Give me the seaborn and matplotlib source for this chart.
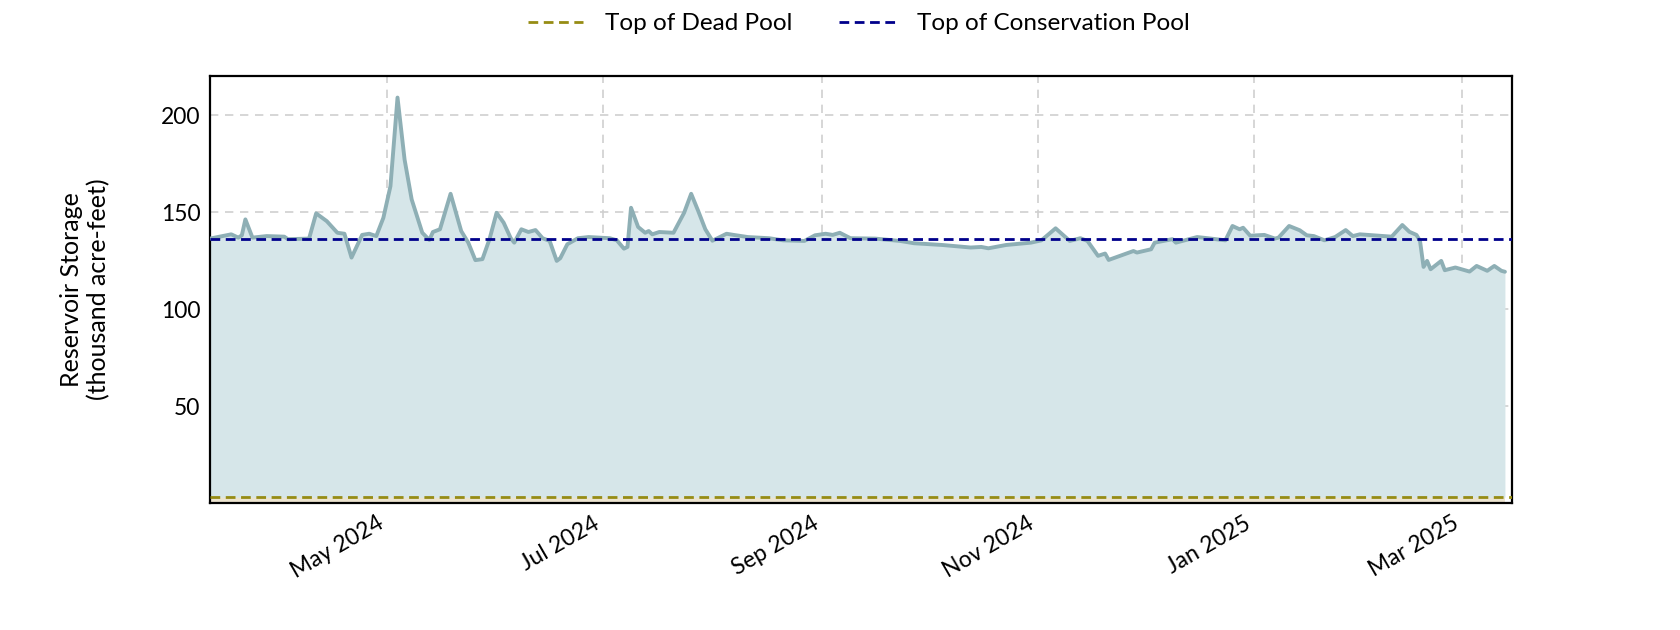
import matplotlib
matplotlib.use("Agg")
import matplotlib.pyplot as plt
import matplotlib.dates as mdates
from matplotlib.lines import Line2D
import seaborn as sns
import pandas as pd

dates = [
    "2024-03-12", "2024-03-18", "2024-03-20", "2024-03-21", "2024-03-22", "2024-03-24",
    "2024-03-28", "2024-04-02", "2024-04-03", "2024-04-09", "2024-04-11", "2024-04-14",
    "2024-04-17", "2024-04-19", "2024-04-21", "2024-04-24", "2024-04-26", "2024-04-28",
    "2024-04-30", "2024-05-02", "2024-05-04", "2024-05-06", "2024-05-08", "2024-05-11",
    "2024-05-13", "2024-05-14", "2024-05-16", "2024-05-19", "2024-05-22", "2024-05-24",
    "2024-05-26", "2024-05-28", "2024-05-30", "2024-06-01", "2024-06-03", "2024-06-05",
    "2024-06-06", "2024-06-08", "2024-06-10", "2024-06-12", "2024-06-14", "2024-06-16",
    "2024-06-18", "2024-06-19", "2024-06-21", "2024-06-24", "2024-06-27", "2024-07-03",
    "2024-07-05", "2024-07-07", "2024-07-08", "2024-07-09", "2024-07-11", "2024-07-13",
    "2024-07-14", "2024-07-15", "2024-07-17", "2024-07-21", "2024-07-24", "2024-07-26",
    "2024-07-28", "2024-07-30", "2024-08-01", "2024-08-05", "2024-08-07", "2024-08-11",
    "2024-08-17", "2024-08-21", "2024-08-27", "2024-08-30", "2024-09-02", "2024-09-04",
    "2024-09-06", "2024-09-09", "2024-09-16", "2024-09-23", "2024-09-27", "2024-10-05",
    "2024-10-13", "2024-10-16", "2024-10-18", "2024-10-23", "2024-10-30", "2024-11-02",
    "2024-11-06", "2024-11-10", "2024-11-13", "2024-11-15", "2024-11-18", "2024-11-20",
    "2024-11-21", "2024-11-25", "2024-11-28", "2024-11-29", "2024-12-03", "2024-12-04",
    "2024-12-09", "2024-12-10", "2024-12-16", "2024-12-19", "2024-12-24", "2024-12-26",
    "2024-12-28", "2024-12-29", "2024-12-31", "2025-01-04", "2025-01-07", "2025-01-08",
    "2025-01-11", "2025-01-14", "2025-01-16", "2025-01-18", "2025-01-21", "2025-01-24",
    "2025-01-27", "2025-01-29", "2025-01-31", "2025-02-09", "2025-02-12", "2025-02-14",
    "2025-02-16", "2025-02-17", "2025-02-18", "2025-02-19", "2025-02-20", "2025-02-23",
    "2025-02-24", "2025-02-27", "2025-03-03", "2025-03-05", "2025-03-08", "2025-03-10",
    "2025-03-12", "2025-03-13",
]
storage = [
    136.3, 138.5, 136.8, 138.0, 146.2, 136.8,
    137.6, 137.3, 136.0, 136.3, 149.3, 145.3,
    139.3, 138.8, 126.5, 138.2, 138.8, 137.6,
    147.0, 163.3, 209.0, 177.0, 156.5, 139.3,
    135.6, 139.7, 141.1, 159.4, 140.2, 134.2,
    125.2, 125.7, 136.0, 149.6, 144.5, 136.5,
    134.2, 141.1, 139.7, 140.7, 136.5, 135.1,
    124.8, 126.2, 133.4, 136.5, 137.1, 136.5,
    135.4, 131.1, 132.0, 152.2, 142.3, 139.3,
    140.2, 138.5, 139.7, 139.3, 149.6, 159.4,
    150.5, 141.1, 135.2, 138.8, 138.2, 137.1,
    136.5, 135.4, 135.1, 138.0, 138.8, 138.2,
    139.3, 136.5, 136.3, 135.1, 133.9, 133.0,
    131.7, 132.0, 131.3, 133.0, 134.2, 135.4,
    141.6, 135.1, 136.5, 135.1, 127.4, 128.6,
    125.3, 127.9, 129.9, 129.1, 130.8, 134.2,
    136.0, 134.2, 137.1, 136.5, 135.4, 142.8,
    141.1, 141.9, 137.8, 138.2, 136.3, 136.8,
    142.8, 140.6, 138.0, 137.6, 135.4, 137.1,
    140.7, 137.6, 138.5, 137.3, 143.3, 139.8,
    138.2, 135.1, 121.7, 124.8, 120.5, 124.8,
    120.0, 121.4, 119.3, 122.2, 119.7, 122.2,
    119.7, 119.2,
]
dead_pool = 3.0
conservation_pool = 136.0
legend_labels = ["Top of Dead Pool", "Top of Conservation Pool"]
y_ticks = [50, 100, 150, 200]

df = pd.DataFrame({"date": pd.to_datetime(dates), "storage": storage})

sns.set_theme(style="white")
plt.rcParams["font.family"] = ["Lato", "DejaVu Sans"]
plt.rcParams["text.color"] = "black"
plt.rcParams["axes.labelcolor"] = "black"
plt.rcParams["xtick.color"] = "black"
plt.rcParams["ytick.color"] = "black"

line_color = "#8eafb5"
fill_color = "#d6e6e9"
dead_color = "#968c14"
cons_color = "#00008b"

fig, ax = plt.subplots(figsize=(16.8, 6.3), dpi=100)

ax.fill_between(df["date"], 0, dead_pool, color="#ece4cf", lw=0, zorder=1)
ax.fill_between(df["date"], dead_pool, df["storage"], color=fill_color, lw=0, zorder=1)
sns.lineplot(data=df, x="date", y="storage", ax=ax, color=line_color, lw=2.8, zorder=3)
ax.axhline(dead_pool, color=dead_color, ls=(0, (3.5, 2)), lw=2.0, zorder=4)
ax.axhline(conservation_pool, color=cons_color, ls=(0, (3.5, 2)), lw=2.0, zorder=4)

ax.set_ylim(0, 220)
ax.set_xlim(pd.Timestamp("2024-03-12"), pd.Timestamp("2025-03-15"))
ax.set_yticks(y_ticks)
ax.xaxis.set_major_locator(mdates.MonthLocator(bymonth=[1, 3, 5, 7, 9, 11]))
ax.xaxis.set_major_formatter(mdates.DateFormatter("%b %Y"))

ax.grid(True, ls=(0, (5, 4)), color="#cfcfcf", lw=1.2, zorder=0)
ax.set_axisbelow(True)
for s in ax.spines.values():
    s.set_color("black")
    s.set_linewidth(1.6)
ax.tick_params(axis="both", length=0, labelsize=16.5, pad=7)
ax.set_xlabel("")
ax.set_ylabel("Reservoir Storage\n(thousand acre-feet)", fontsize=18, labelpad=36)

fig.subplots_adjust(left=0.125, right=0.9, top=0.879, bottom=0.2016)
plt.setp(ax.get_xticklabels(), rotation=30, ha="right")

handles = [Line2D([0], [0], color=dead_color, ls=(0, (3.5, 2)), lw=2.0),
           Line2D([0], [0], color=cons_color, ls=(0, (3.5, 2)), lw=2.0)]
fig.legend(handles, legend_labels, loc="center", bbox_to_anchor=(0.511, 0.962),
           ncol=2, frameon=False, fontsize=17.5, columnspacing=1.9,
           handlelength=2.3, handletextpad=0.9)

fig.savefig("out.png", dpi=100)
